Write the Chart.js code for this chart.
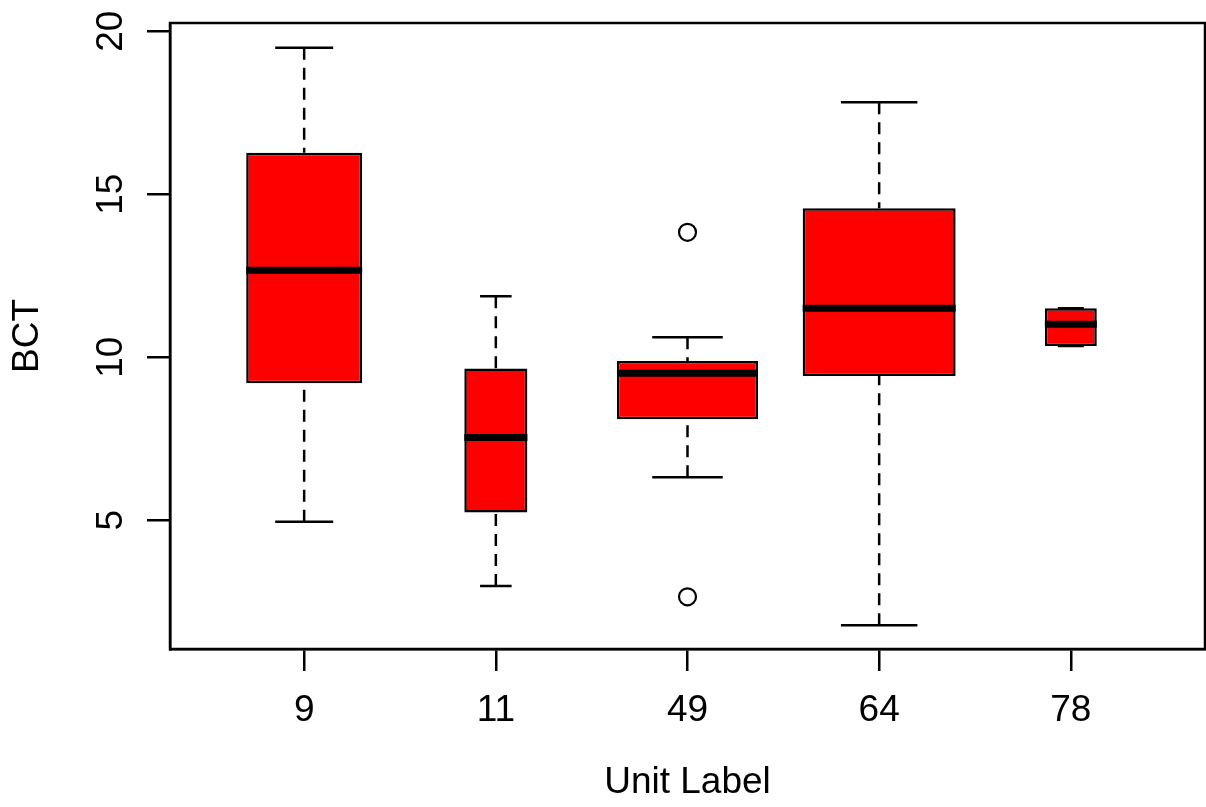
<!DOCTYPE html>
<html>
<head>
<meta charset="utf-8">
<script src="https://cdn.jsdelivr.net/npm/chart.js@4/dist/chart.umd.min.js"></script>
<style>
  html, body { margin: 0; padding: 0; background: #fff; }
  canvas { display: block; }
</style>
</head>
<body>
<canvas id="boxChart" width="1206" height="807"></canvas>
<script>
// box plot stats, one entry per unit
const unitLabels = ['9', '11', '49', '64', '78'];
const whiskerLow = [4.95, 2.98, 6.32, 1.78, 10.34];
const lowerQuartile = [9.20, 5.24, 8.10, 9.42, 10.34];
const medians = [12.67, 7.54, 9.51, 11.50, 11.01];
const upperQuartile = [16.27, 9.65, 9.88, 14.57, 11.50];
const whiskerHigh = [19.49, 11.87, 10.61, 17.82, 11.50];
const outliers = [[], [], [13.83, 2.65], [], []];
const yTicks = [5, 10, 15, 20];

// box widths (varwidth), as a share of one category slot
const boxWidths = [0.605, 0.329, 0.736, 0.798, 0.271];

const FONT = '"Liberation Sans", Arial, Helvetica, sans-serif';

// join 2-point segments into one line dataset, broken with null points
function segments(list) {
  const out = [];
  list.forEach(([a, b]) => { out.push(a, b, { x: a.x, y: null }); });
  return out;
}

const medianSegs = segments(medians.map((m, i) => [
  { x: i + 1 - boxWidths[i] / 2, y: m }, { x: i + 1 + boxWidths[i] / 2, y: m }
]));

const whiskerSegs = segments(unitLabels.flatMap((_, i) => [
  [{ x: i + 1, y: whiskerHigh[i] }, { x: i + 1, y: upperQuartile[i] }],
  [{ x: i + 1, y: whiskerLow[i] }, { x: i + 1, y: lowerQuartile[i] }]
]));

const capSegs = segments(unitLabels.flatMap((_, i) => [
  [{ x: i + 1 - boxWidths[i] / 4, y: whiskerHigh[i] }, { x: i + 1 + boxWidths[i] / 4, y: whiskerHigh[i] }],
  [{ x: i + 1 - boxWidths[i] / 4, y: whiskerLow[i] }, { x: i + 1 + boxWidths[i] / 4, y: whiskerLow[i] }]
]));

const outlierPoints = outliers.flatMap((vals, i) => vals.map(v => ({ x: i + 1, y: v })));

const boxDatasets = unitLabels.map((lab, i) => ({
  type: 'bar',
  label: lab,
  data: [{ x: i + 1, y: [lowerQuartile[i], upperQuartile[i]] }],
  backgroundColor: '#ff0000',
  borderColor: '#000',
  borderWidth: 2.5,
  borderSkipped: false,
  grouped: false,
  categoryPercentage: 1,
  barPercentage: boxWidths[i],
  order: 3
}));

const framePlugin = {
  id: 'frame',
  afterDatasetsDraw(chart) {
    const { ctx, chartArea: a } = chart;
    ctx.save();
    ctx.strokeStyle = '#000';
    ctx.lineWidth = 2.5;
    ctx.strokeRect(a.left, a.top, a.right - a.left, a.bottom - a.top);
    ctx.restore();
  }
};

new Chart(document.getElementById('boxChart'), {
  data: {
    datasets: [
      ...boxDatasets,
      {
        type: 'line', label: 'whiskers', data: whiskerSegs,
        borderColor: '#000', borderWidth: 2.5, borderDash: [12, 8],
        pointRadius: 0, spanGaps: false, order: 2
      },
      {
        type: 'line', label: 'caps', data: capSegs,
        borderColor: '#000', borderWidth: 2.5,
        pointRadius: 0, spanGaps: false, order: 2
      },
      {
        type: 'line', label: 'medians', data: medianSegs,
        borderColor: '#000', borderWidth: 7,
        pointRadius: 0, spanGaps: false, order: 1
      },
      {
        type: 'scatter', label: 'outliers', data: outlierPoints,
        pointRadius: 8.5, pointBorderWidth: 2.2, pointBorderColor: '#000',
        pointBackgroundColor: 'rgba(0,0,0,0)', order: 0
      }
    ]
  },
  options: {
    responsive: false,
    animation: false,
    layout: { autoPadding: false, padding: { top: 23, right: 1, bottom: 0, left: 0 } },
    plugins: { legend: { display: false }, tooltip: { enabled: false } },
    scales: {
      x: {
        type: 'linear',
        offset: false,
        min: 0.3,
        max: 5.7,
        afterBuildTicks(scale) { scale.ticks = unitLabels.map((_, i) => ({ value: i + 1 })); },
        afterFit(scale) {
          scale.height = 158;
          scale.paddingLeft = 0; scale.paddingRight = 0;
        },
        ticks: {
          autoSkip: false,
          maxRotation: 0,
          padding: 18,
          color: '#000',
          font: { family: FONT, size: 37 },
          callback: (v) => unitLabels[Math.round(v) - 1] ?? ''
        },
        grid: { offset: false, drawOnChartArea: false, drawTicks: true, tickLength: 22, color: '#000', lineWidth: 2.5 },
        border: { display: true, color: '#000', width: 2.5 },
        title: {
          display: true, text: 'Unit Label', color: '#000',
          font: { family: FONT, size: 37 }, padding: { top: 0, bottom: 2 }
        }
      },
      y: {
        type: 'linear',
        min: 1.05,
        max: 20.25,
        afterBuildTicks(scale) { scale.ticks = yTicks.map(v => ({ value: v })); },
        afterFit(scale) {
          scale.width = 170;
          scale.paddingTop = 0; scale.paddingBottom = 0;
        },
        ticks: {
          autoSkip: false,
          minRotation: 90,
          maxRotation: 90,
          crossAlign: 'center',
          padding: 15,
          color: '#000',
          font: { family: FONT, size: 37 }
        },
        grid: { drawOnChartArea: false, drawTicks: true, tickLength: 23, color: '#000', lineWidth: 2.5 },
        border: { display: true, color: '#000', width: 2.5 },
        title: {
          display: true, text: 'BCT', color: '#000',
          font: { family: FONT, size: 37 }, padding: { top: 6, bottom: 0 }
        }
      }
    }
  },
  plugins: [framePlugin]
});
</script>
</body>
</html>
